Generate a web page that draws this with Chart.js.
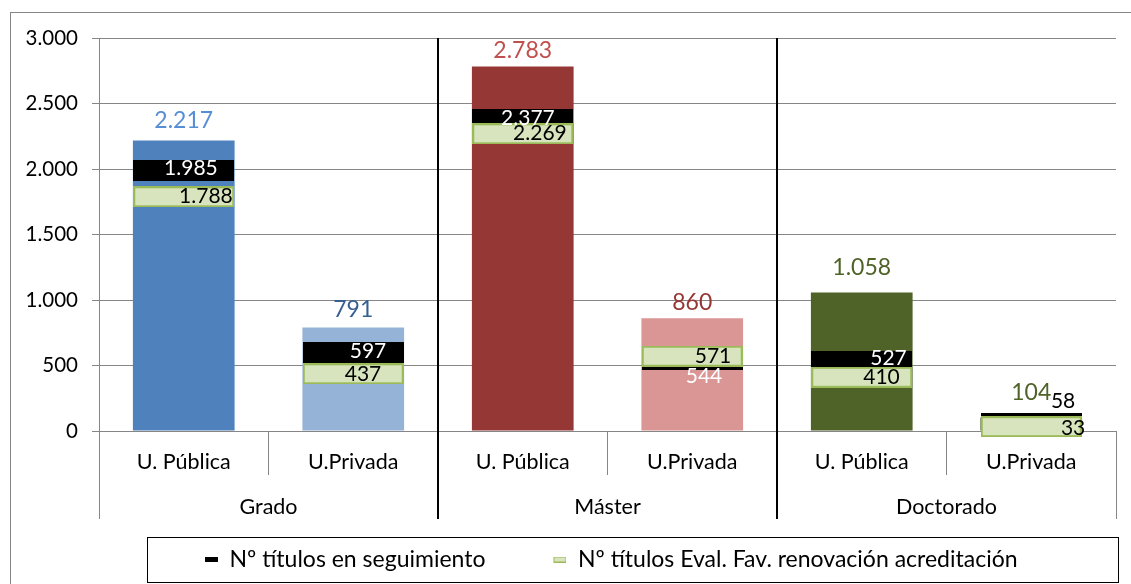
<!DOCTYPE html>
<html><head><meta charset="utf-8">
<script src="https://cdn.jsdelivr.net/npm/chart.js@4"></script>
<style>html,body{margin:0;padding:0;background:#fff;} canvas{display:block;}</style>
</head><body>
<canvas id="c" width="1131" height="584"></canvas>
<script>
// ---- data ----
const categories = ['U. Pública', 'U.Privada', 'U. Pública', 'U.Privada', 'U. Pública', 'U.Privada'];
const groups = ['Grado', 'Máster', 'Doctorado'];
const totalTitulos = [2217, 791, 2783, 860, 1058, 104];
const enSeguimiento = [1985, 597, 2377, 544, 527, 58];
const evalFavorable = [1788, 437, 2269, 571, 410, 33];
const yTicks = [0, 500, 1000, 1500, 2000, 2500, 3000];
const seriesNames = ['Nº títulos en seguimiento', 'Nº títulos Eval. Fav. renovación acreditación'];

// ---- styles ----
const barColors = ['#4F81BD', '#95B3D7', '#953735', '#DA9694', '#4F6228', '#4F6228'];
const totalLabelColors = ['#558ED5', '#376092', '#C0504D', '#953735', '#4F6228', '#4F6228'];
const totalLabelDy = [-20, -18, -16, -16, -25, -25];
const segLabelDx = [34, 33, 32, 30, 45, 44];
const segLabelDy = [-3, -2, -1, 16, -3.5, -22];
const segLabelColors = ['#fff', '#fff', '#fff', '#fff', '#fff', '#000'];
const evalLabelDx = [49, 28, 44, 39, 38, 54];
const evalLabelDy = [-1, 0, -1, 0, 0, 2];
const FONT = 'Lato';

function fmt(v) { return String(v).replace(/\B(?=(\d{3})+(?!\d))/g, '.'); }

function makeMarker(w, h, fill, stroke, lw, dashW) {
  const c = document.createElement('canvas');
  c.width = w; c.height = h;
  const g = c.getContext('2d');
  const x0 = dashW ? w - dashW : 0;
  const ww = dashW ? dashW : w;
  g.fillStyle = fill; g.fillRect(x0, 0, ww, h);
  if (stroke) { g.strokeStyle = stroke; g.lineWidth = lw; g.strokeRect(x0 + lw / 2, lw / 2, ww - lw, h - lw); }
  return c;
}
const blackMarker = makeMarker(101, 21, '#000');
const greenMarker = makeMarker(101, 21, '#D7E4BD', '#9BBB59', 2);
const blackLegend = makeMarker(71, 5, '#000', null, 0, 13);
const greenLegend = makeMarker(71, 6, '#D7E4BD', '#9BBB59', 1, 13);

const framePlugin = {
  id: 'frame',
  beforeDraw(chart) {
    const ctx = chart.ctx;
    ctx.save();
    ctx.fillStyle = '#fff'; ctx.fillRect(0, 0, chart.width, chart.height);
    ctx.strokeStyle = '#868686'; ctx.lineWidth = 1;
    ctx.strokeRect(10.5, 12.5, 1300, 700);
    ctx.restore();
  },
  afterLayout(chart) {
    const lg = chart.legend;
    const w = lg.right - lg.left;
    lg.left = 137; lg.right = 137 + w + 200;
  },
  afterDraw(chart) {
    const ctx = chart.ctx;
    const xs = chart.scales.x;
    const bottom = chart.scales.x2.top + 44;
    ctx.save();
    ctx.strokeStyle = '#000'; ctx.lineWidth = 2;
    [1, 3].forEach(i => {
      const x = Math.round((xs.getPixelForValue(i) + xs.getPixelForValue(i + 1)) / 2);
      ctx.beginPath(); ctx.moveTo(x, chart.chartArea.top); ctx.lineTo(x, bottom); ctx.stroke();
    });
    ctx.lineWidth = 1;
    ctx.strokeRect(147.5, 537.5, 971, 45);
    ctx.restore();
  },
  afterDatasetsDraw(chart) {
    const ctx = chart.ctx;
    const bars = chart.getDatasetMeta(0).data;
    const seg = chart.getDatasetMeta(1).data;
    const ev = chart.getDatasetMeta(2).data;
    ctx.save();
    ctx.textBaseline = 'middle';
    ctx.font = '23px ' + FONT;
    ctx.textAlign = 'center';
    bars.forEach((b, i) => {
      ctx.fillStyle = totalLabelColors[i];
      ctx.fillText(fmt(totalTitulos[i]), b.x, b.y + totalLabelDy[i]);
    });
    ctx.font = '21px ' + FONT;
    ctx.textAlign = 'right';
    seg.forEach((p, i) => {
      ctx.fillStyle = segLabelColors[i];
      ctx.fillText(fmt(enSeguimiento[i]), p.x + segLabelDx[i], p.y + segLabelDy[i]);
    });
    ev.forEach((p, i) => {
      ctx.fillStyle = '#000';
      ctx.fillText(fmt(evalFavorable[i]), p.x + evalLabelDx[i], p.y + evalLabelDy[i]);
    });
    ctx.restore();
  }
};

new Chart(document.getElementById('c'), {
  data: {
    labels: categories,
    datasets: [
      { type: 'bar', label: 'Total', data: totalTitulos, backgroundColor: barColors,
        order: 3, barPercentage: 0.6, categoryPercentage: 1.0, xAxisID: 'x' },
      { type: 'line', label: seriesNames[0], data: enSeguimiento, showLine: false,
        pointStyle: blackMarker, order: 2, clip: false, xAxisID: 'x' },
      { type: 'line', label: seriesNames[1], data: evalFavorable, showLine: false,
        pointStyle: greenMarker, order: 1, clip: false, xAxisID: 'x' }
    ]
  },
  options: {
    responsive: false,
    animation: false,
    events: [],
    devicePixelRatio: 1,
    layout: { padding: { left: 10, right: 15, top: 38, bottom: 3 } },
    scales: {
      y: {
        min: 0, max: 3000,
        afterFit(s) { s.width = 89; },
        afterBuildTicks(s) { s.ticks = yTicks.map(v => ({ value: v })); },
        ticks: { callback: v => fmt(v), font: { family: FONT, size: 20.5 }, color: '#000', padding: 14 },
        grid: { color: '#868686', tickLength: 7, lineWidth: 1 },
        border: { color: '#868686' }
      },
      x: {
        type: 'category',
        position: 'bottom',
        offset: true,
        afterFit(s) { s.height = 44; },
        ticks: { font: { family: FONT, size: 21.5 }, color: '#000', padding: -26, maxRotation: 0, autoSkip: false },
        grid: { offset: true, drawOnChartArea: false, tickLength: 44, color: '#868686' },
        border: { color: '#868686' }
      },
      x2: {
        type: 'category',
        position: 'bottom',
        labels: groups,
        offset: true,
        afterFit(s) { s.height = 63; },
        ticks: { font: { family: FONT, size: 21.5 }, color: '#000', padding: -25, maxRotation: 0, autoSkip: false },
        grid: { offset: true, drawOnChartArea: false, tickLength: 44, color: '#868686' },
        border: { display: false }
      }
    },
    plugins: {
      tooltip: { enabled: false },
      legend: {
        position: 'bottom',
        align: 'start',
        labels: {
          usePointStyle: true,
          pointStyleWidth: 71,
          padding: 10,
          color: '#000',
          font: { family: FONT, size: 23 },
          generateLabels() {
            return [
              { text: seriesNames[0], pointStyle: blackLegend, fontColor: '#000', datasetIndex: 1, lineWidth: 0 },
              { text: seriesNames[1], pointStyle: greenLegend, fontColor: '#000', datasetIndex: 2, lineWidth: 0 }
            ];
          }
        }
      }
    }
  },
  plugins: [framePlugin]
});
</script>
</body></html>
